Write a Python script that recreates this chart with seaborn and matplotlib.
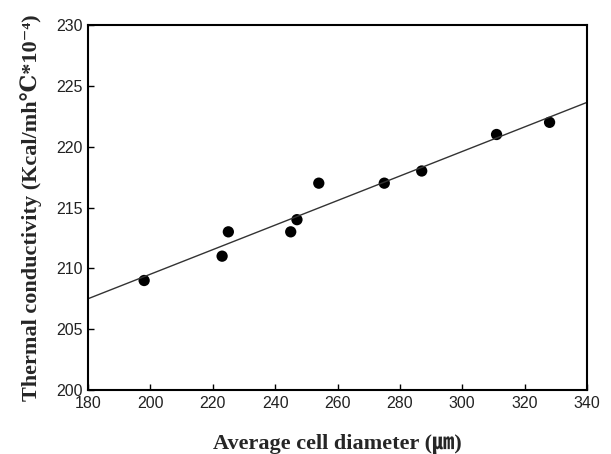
import numpy as np
import pandas as pd
import seaborn as sns
import matplotlib
matplotlib.use("Agg")
import matplotlib.pyplot as plt

diameter = [198, 223, 225, 245, 247, 254, 275, 287, 311, 328]
conductivity = [209, 211, 213, 213, 214, 217, 217, 218, 221, 222]
x_ticks = [180, 200, 220, 240, 260, 280, 300, 320, 340]
y_ticks = [200, 205, 210, 215, 220, 225, 230]

df = pd.DataFrame({"d": diameter, "k": conductivity})

sns.set_theme(style="white")
plt.rcParams["font.family"] = ["Liberation Sans", "DejaVu Sans"]

fig = plt.figure(figsize=(6.11, 4.54), dpi=100)
ax = fig.add_axes([88/611, 1 - 390/454, (587-88)/611, (390-25)/454])
ax.set_xlim(180, 340)
ax.set_ylim(200, 230)

sns.regplot(data=df, x="d", y="k", ax=ax, ci=None, truncate=False,
            scatter_kws=dict(s=66, color="black", edgecolor="none", alpha=1),
            line_kws=dict(color="#333333", lw=1.0))

ax.set_xticks(x_ticks)
ax.set_yticks(y_ticks)
ax.tick_params(direction="in", length=4, width=1, labelsize=11.5, colors="black",
               bottom=True, left=True, top=False, right=False, pad=4)
for lab in ax.get_xticklabels() + ax.get_yticklabels():
    lab.set_color("#222222")
for s in ax.spines.values():
    s.set_linewidth(1.5)
    s.set_color("black")

fam = ["Liberation Serif", "DejaVu Serif", "Noto Sans CJK JP"]
ax.set_xlabel("Average cell diameter (\u339b)", family=fam, fontweight="bold",
              fontsize=16, labelpad=17)
ax.set_ylabel("Thermal conductivity (Kcal/mh\u2103*10\u207b\u2074)", family=fam,
              fontweight="bold", fontsize=16, labelpad=10)

fig.savefig("out.png", dpi=100)
